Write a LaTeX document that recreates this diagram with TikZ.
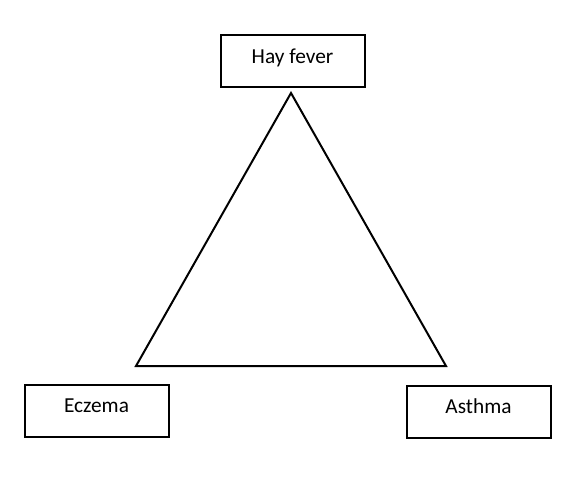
\documentclass[tikz,border=0pt]{standalone}
\usepackage{fontspec}
\setmainfont{Carlito}
\usepackage{tikz}

\begin{document}
\begin{tikzpicture}[x=0.75pt, y=-0.75pt,
    diseasebox/.style={draw, line width=1.5pt, minimum width=108pt, minimum height=39pt,
      text height=12pt, text depth=9pt, font=\fontsize{16pt}{19pt}\selectfont}]
    % page size
    \useasboundingbox (0,0) rectangle (582,476);

    % the three boxes
    \node[diseasebox] (hay) at (292.5,61) {Hay fever};
    \node[diseasebox] (ecz) at (96.5,410.5) {Eczema};
    \node[diseasebox] (ast) at (478.5,411.5) {Asthma};

    % corners of the triangle
    \coordinate (top) at (291,93);
    \coordinate (left) at (136,366);
    \coordinate (right) at (446,366);
    \draw[line width=1.5pt] (top) -- (right) -- (left) -- cycle;
\end{tikzpicture}
\end{document}
